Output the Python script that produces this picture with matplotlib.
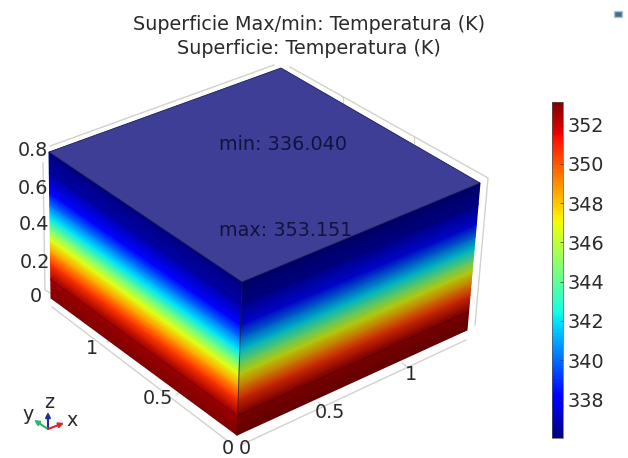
import numpy as np
import matplotlib
matplotlib.use("Agg")
import matplotlib.pyplot as plt
from matplotlib.colors import LinearSegmentedColormap, Normalize
from matplotlib.cm import ScalarMappable
from matplotlib.patches import Polygon, Rectangle

# temperature read along the height of the block
height = [0.0, 0.10, 0.105, 0.19, 0.255, 0.318, 0.38, 0.444, 0.51, 0.575, 0.685, 0.69, 0.8]
temperature = [353.15, 352.7, 352.6, 350.6, 348.7, 346.8, 344.4, 342.0, 340.1, 338.3, 336.7, 336.6, 336.04]

t_min = 336.04
t_max = 353.151
cbar_ticks = [338, 340, 342, 344, 346, 348, 350, 352]
z_ticks = ["0", "0.2", "0.4", "0.6", "0.8"]
y_ticks = ["0", "0.5", "1"]
x_ticks = ["0", "0.5", "1"]

title_lines = ["Superficie Max/min: Temperatura (K)", "Superficie: Temperatura (K)"]
min_label = "min: 336.040"
max_label = "max: 353.151"

# box corners on the image
left_top = (49, 152)
back_top = (281, 68)
right_top = (480, 183)
front_top = (242, 282)
left_bot = (51, 298)
right_bot = (467, 330)
front_bot = (237, 435)


def face_mesh(top_a, top_b, bot_a, bot_b, z, n=2):
    s = np.linspace(0, 1, n)
    z = np.array(z) / 0.8
    X = np.zeros((len(z), n))
    Y = np.zeros((len(z), n))
    for i, f in enumerate(z):
        a = np.array(bot_a) + f * (np.array(top_a) - np.array(bot_a))
        b = np.array(bot_b) + f * (np.array(top_b) - np.array(bot_b))
        X[i] = a[0] + s * (b[0] - a[0])
        Y[i] = a[1] + s * (b[1] - a[1])
    return X, Y


fig = plt.figure(figsize=(6.28, 4.58), dpi=100)
ax = fig.add_axes([0, 0, 1, 1])
ax.set_xlim(0, 628)
ax.set_ylim(458, 0)
ax.axis("off")

text_c = "#2a2a2a"
grid_c = "#d2d2cc"
fs = 13.8

# back and floor axis lines
for line in [[(50, 146), (274, 65)], [(290, 67), (488, 178), (475, 325)],
             [(43, 163), (45, 290), (52, 294)], [(52, 307), (233, 445)], [(241, 445), (466, 340)]]:
    ax.plot(*zip(*line), color=grid_c, lw=1.0, zorder=1)
for tick in [[(107, 342), (113, 338)], [(176, 395), (182, 391)], [(318, 402), (324, 407)],
             [(402, 363), (408, 368)], [(343, 97), (343, 103)], [(414, 137), (414, 143)]]:
    ax.plot(*zip(*tick), color=grid_c, lw=0.9, zorder=1)

jet = plt.get_cmap("jet")
norm = Normalize(t_min, t_max)
shade = LinearSegmentedColormap.from_list(
    "jet_shade", [tuple(np.array(jet(v)[:3]) * 0.78) for v in np.linspace(0, 1, 257)], N=512)

n_w = 2
C = np.repeat(np.array(temperature)[:, None], n_w, axis=1)

X, Y = face_mesh(left_top, front_top, left_bot, front_bot, height, n_w)
ax.pcolormesh(X, Y, C, shading="gouraud", cmap=jet, norm=norm, zorder=2)
X, Y = face_mesh(front_top, right_top, front_bot, right_bot, height, n_w)
ax.pcolormesh(X, Y, C, shading="gouraud", cmap=shade, norm=norm, zorder=2)

ax.add_patch(Polygon([left_top, back_top, right_top, front_top], closed=True,
                     facecolor="#3e3e96", edgecolor="#1b1b55", lw=0.6, zorder=3))
ax.plot(*zip(front_top, front_bot), color="#20202a", lw=0.7, alpha=0.7, zorder=3)

# layer boundaries
for h in [0.10, 0.685]:
    X, Y = face_mesh(left_top, front_top, left_bot, front_bot, [h], 2)
    ax.plot(X[0], Y[0], color="#000030", lw=0.5, alpha=0.35, zorder=3)
    X, Y = face_mesh(front_top, right_top, front_bot, right_bot, [h], 2)
    ax.plot(X[0], Y[0], color="#000030", lw=0.5, alpha=0.35, zorder=3)

ax.text(309, 24, title_lines[0], ha="center", va="center", fontsize=fs, color=text_c)
ax.text(309, 48, title_lines[1], ha="center", va="center", fontsize=fs, color=text_c)

ax.text(283, 144, min_label, ha="center", va="center", fontsize=fs, color="#12123f", zorder=4)
ax.text(286, 231, max_label, ha="center", va="center", fontsize=fs, color="#12123f", zorder=4)

for lab, (px, py) in zip(z_ticks, [(36, 297), (35, 262), (34, 225), (33, 189), (33, 151)]):
    ax.text(px, py, lab, ha="center", va="center", fontsize=fs, color=text_c, zorder=5)
for lab, (px, py) in zip(y_ticks, [(228, 449), (158, 398), (92, 349)]):
    ax.text(px, py, lab, ha="center", va="center", fontsize=fs, color=text_c, zorder=5)
for lab, (px, py) in zip(x_ticks, [(245, 449), (330, 412), (411, 374)]):
    ax.text(px, py, lab, ha="center", va="center", fontsize=fs, color=text_c, zorder=5)

# orientation triad
org = (48, 429)
for tip, col in [((48, 412), "#1d2f9c"), ((34, 420), "#2fb56a"), ((64, 423), "#d8262c")]:
    ax.annotate("", xy=tip, xytext=org,
                arrowprops=dict(arrowstyle="-|>", color=col, lw=1.5, mutation_scale=7, shrinkA=0, shrinkB=0))
ax.text(49, 403, "z", ha="center", va="center", fontsize=fs, color=text_c)
ax.text(28, 415, "y", ha="center", va="center", fontsize=fs, color=text_c)
ax.text(72, 420, "x", ha="center", va="center", fontsize=fs, color=text_c)

# small toolbar glyph top right
ax.add_patch(Rectangle((614, 11), 8, 6, facecolor="#3f6f8f", edgecolor="#b8c4cc", lw=1.0))

cax = fig.add_axes([552 / 628, 1 - 438 / 458, 11 / 628, 336 / 458])
cb = fig.colorbar(ScalarMappable(norm=norm, cmap=jet), cax=cax)
cb.set_ticks(cbar_ticks)
cb.ax.tick_params(direction="in", length=2, width=0.5, labelsize=fs, pad=3, labelcolor=text_c, color="#333333")
cb.outline.set_linewidth(0.5)
cb.outline.set_edgecolor("#555555")

fig.savefig("out.png", dpi=100)
